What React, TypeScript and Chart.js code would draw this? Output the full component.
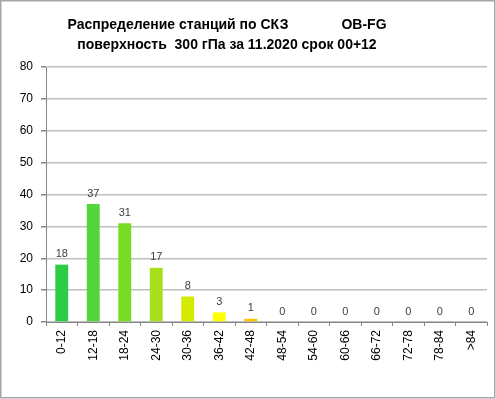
import React, { useEffect, useRef } from "react";
import { Chart, registerables } from "chart.js";

Chart.register(...registerables);

const titleLine1Left = "Распределение станций по СКЗ";
const titleLine1Right = "OB-FG";
const titleLine2 = "поверхность  300 гПа за 11.2020 срок 00+12";

const categories = ["0-12", "12-18", "18-24", "24-30", "30-36", "36-42", "42-48", "48-54", "54-60", "60-66", "66-72", "72-78", "78-84", ">84"];
const counts = [18, 37, 31, 17, 8, 3, 1, 0, 0, 0, 0, 0, 0, 0];
const barColors = ["#2ecc44", "#52d63a", "#78dc24", "#a6e01a", "#d4ea00", "#ffff00", "#ffc000", "#ffc000", "#ffc000", "#ffc000", "#ffc000", "#ffc000", "#ffc000", "#ffc000"];
const yTicks = [0, 10, 20, 30, 40, 50, 60, 70, 80];

const FONT = "'Liberation Sans', Arial, sans-serif";

const decorPlugin = {
  id: "decor",
  afterDraw(chart: any) {
    const ctx = chart.ctx;
    ctx.save();
    // outer border
    ctx.strokeStyle = "#a6a6a6";
    ctx.lineWidth = 1.5;
    ctx.strokeRect(0.75, 0.75, 494, 397);
    // title
    ctx.fillStyle = "#000000";
    ctx.font = "bold 14px " + FONT;
    ctx.textBaseline = "middle";
    ctx.textAlign = "center";
    ctx.fillText(titleLine1Left, 178, 25);
    ctx.fillText(titleLine1Right, 364, 25);
    ctx.fillText(titleLine2, 227, 45);
    // data labels
    ctx.font = "11px " + FONT;
    ctx.fillStyle = "#404040";
    ctx.textBaseline = "bottom";
    const meta = chart.getDatasetMeta(0);
    meta.data.forEach((el: any, i: number) => {
      ctx.fillText(String(counts[i]), el.x, el.y - 5);
    });
    ctx.restore();
  },
};

export default function App() {
  const ref = useRef<HTMLCanvasElement>(null);
  useEffect(() => {
    const chart = new Chart(ref.current as HTMLCanvasElement, {
      type: "bar",
      data: {
        labels: categories,
        datasets: [
          {
            data: counts,
            backgroundColor: barColors,
            borderWidth: 0,
            categoryPercentage: 1,
            barPercentage: 0.41,
          },
        ],
      },
      options: {
        responsive: false,
        animation: false,
        devicePixelRatio: 1,
        layout: { padding: { left: 0, right: 9, top: 67, bottom: 0 } },
        plugins: {
          legend: { display: false },
          tooltip: { enabled: false },
          title: { display: false },
        },
        scales: {
          x: {
            grid: {
              display: true,
              drawOnChartArea: false,
              drawTicks: true,
              tickLength: 4,
              color: "#868686",
              offset: true,
            },
            border: { display: true, color: "#868686", width: 1 },
            ticks: {
              autoSkip: false,
              maxRotation: 90,
              minRotation: 90,
              padding: 4,
              color: "#000000",
              font: { family: FONT, size: 12 },
            },
            afterFit(scale: any) {
              scale.height = 77;
            },
          },
          y: {
            min: 0,
            max: 80,
            afterBuildTicks(scale: any) {
              scale.ticks = yTicks.map((v) => ({ value: v }));
            },
            grid: {
              color: "#bfbfbf",
              lineWidth: 1.5,
              drawTicks: true,
              tickLength: 5,
              tickColor: "#868686",
            },
            border: { display: true, color: "#868686", width: 1 },
            ticks: {
              padding: 8,
              color: "#000000",
              font: { family: FONT, size: 12 },
            },
            afterFit(scale: any) {
              scale.width = 46;
            },
          },
        },
      },
      plugins: [decorPlugin],
    });
    return () => chart.destroy();
  }, []);
  return (
    <div style={{ position: "fixed", left: 0, top: 0, width: 496, height: 399, background: "#ffffff" }}>
      <canvas ref={ref} width={496} height={399} style={{ display: "block" }} />
    </div>
  );
}
